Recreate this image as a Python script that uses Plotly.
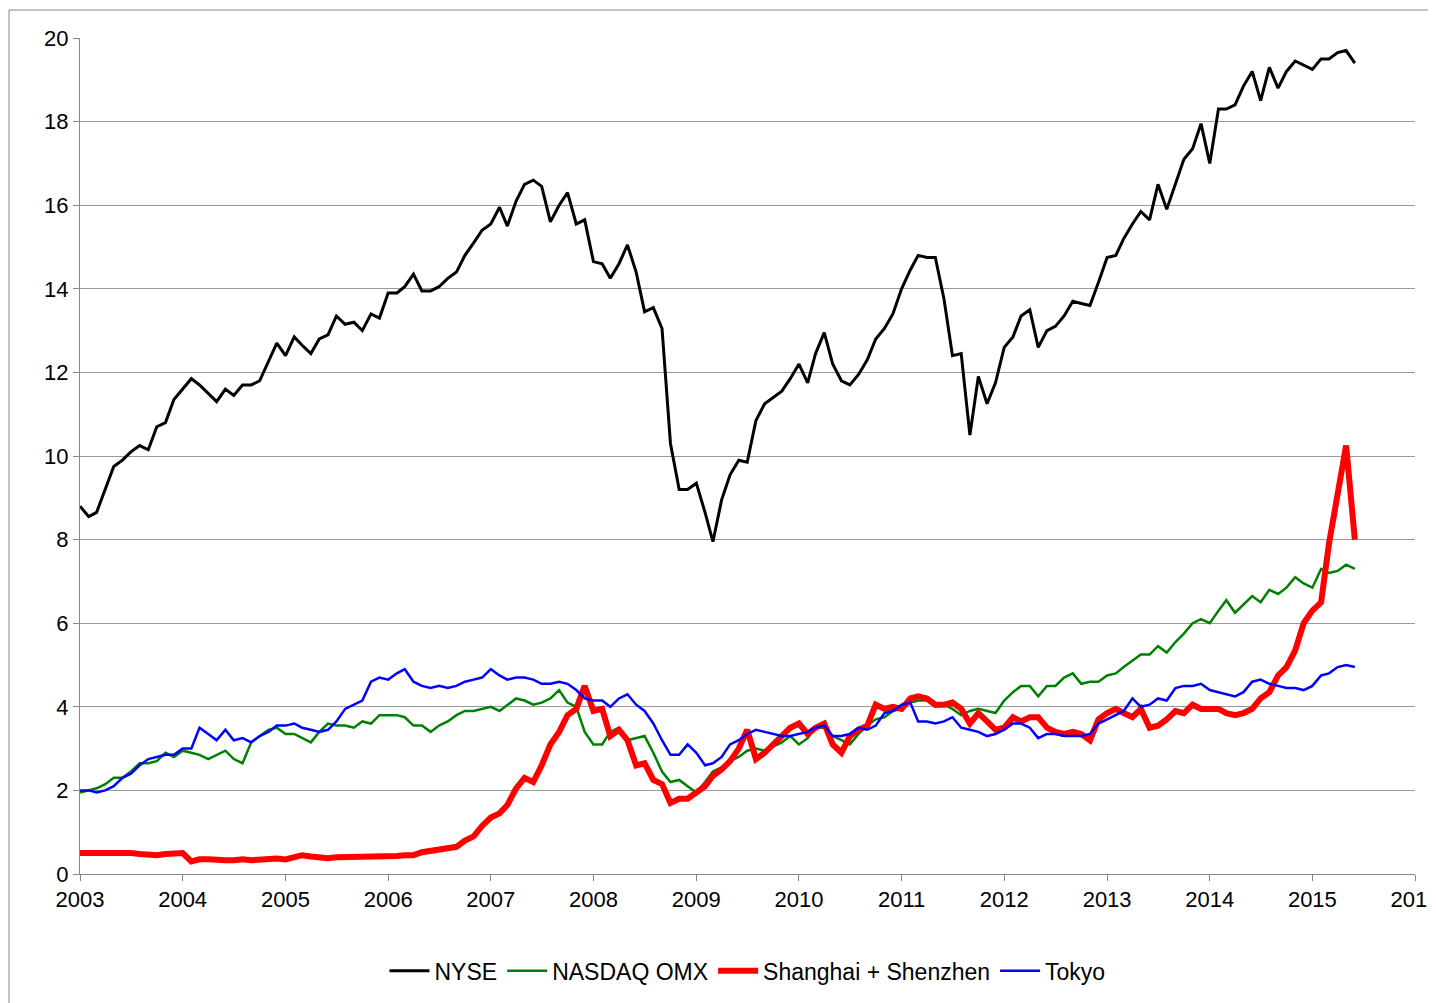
import pandas as pd
import plotly.graph_objects as go

# monthly values, Jan 2003 - Jun 2015
months = pd.date_range("2003-01-01", "2015-06-01", freq="MS")

nyse = [8.8, 8.55, 8.65, 9.2, 9.75, 9.9, 10.1, 10.25, 10.15, 10.7, 10.8, 11.35,
        11.6, 11.85, 11.7, 11.5, 11.3, 11.6, 11.45, 11.7, 11.7, 11.8, 12.25, 12.7,
        12.4, 12.85, 12.65, 12.45, 12.8, 12.9, 13.35, 13.15, 13.2, 13.0, 13.4, 13.3,
        13.9, 13.9, 14.05, 14.35, 13.95, 13.95, 14.05, 14.25, 14.4, 14.8, 15.1, 15.4,
        15.55, 15.95, 15.5, 16.1, 16.5, 16.6, 16.45, 15.6, 16.0, 16.3, 15.55, 15.65,
        14.65, 14.6, 14.25, 14.6, 15.05, 14.4, 13.45, 13.55, 13.05, 10.3, 9.2, 9.2,
        9.35, 8.65, 7.95, 8.95, 9.55, 9.9, 9.85, 10.85, 11.25, 11.4, 11.55, 11.85,
        12.2, 11.75, 12.45, 12.95, 12.2, 11.8, 11.7, 11.95, 12.3, 12.8, 13.05, 13.4,
        14.0, 14.45, 14.8, 14.75, 14.75, 13.75, 12.4, 12.45, 10.5, 11.9, 11.25, 11.75,
        12.6, 12.85, 13.35, 13.5, 12.6, 13.0, 13.1, 13.35, 13.7, 13.65, 13.6, 14.15,
        14.75, 14.8, 15.2, 15.55, 15.85, 15.65, 16.5, 15.9, 16.5, 17.1, 17.35, 17.95,
        17.0, 18.3, 18.3, 18.4, 18.85, 19.2, 18.5, 19.3, 18.8, 19.2, 19.45, 19.35,
        19.25, 19.5, 19.5, 19.65, 19.7, 19.4]

nasdaq = [1.95, 2.0, 2.05, 2.15, 2.3, 2.3, 2.45, 2.65, 2.65, 2.7, 2.9, 2.8,
          2.95, 2.9, 2.85, 2.75, 2.85, 2.95, 2.75, 2.65, 3.15, 3.3, 3.45, 3.5,
          3.35, 3.35, 3.25, 3.15, 3.4, 3.6, 3.55, 3.55, 3.5, 3.65, 3.6, 3.8,
          3.8, 3.8, 3.75, 3.55, 3.55, 3.4, 3.55, 3.65, 3.8, 3.9, 3.9, 3.95,
          4.0, 3.9, 4.05, 4.2, 4.15, 4.05, 4.1, 4.2, 4.4, 4.1, 4.0, 3.4,
          3.1, 3.1, 3.4, 3.5, 3.2, 3.25, 3.3, 2.9, 2.45, 2.2, 2.25, 2.1,
          1.95, 2.2, 2.45, 2.55, 2.7, 2.8, 2.95, 3.0, 2.95, 3.05, 3.15, 3.3,
          3.1, 3.25, 3.5, 3.5, 3.3, 3.2, 3.1, 3.35, 3.55, 3.7, 3.75, 3.9,
          3.95, 4.1, 4.15, 4.15, 4.0, 4.05, 3.95, 3.8, 3.9, 3.95, 3.9, 3.85,
          4.15, 4.35, 4.5, 4.5, 4.25, 4.5, 4.5, 4.7, 4.8, 4.55, 4.6, 4.6,
          4.75, 4.8, 4.95, 5.1, 5.25, 5.25, 5.45, 5.3, 5.55, 5.75, 6.0, 6.1,
          6.0, 6.3, 6.55, 6.25, 6.45, 6.65, 6.5, 6.8, 6.7, 6.85, 7.1, 6.95,
          6.85, 7.3, 7.2, 7.25, 7.4, 7.3]

shanghai = [0.5, 0.5, 0.5, 0.5, 0.53, 0.5, 0.5, 0.48, 0.45, 0.45, 0.48, 0.5,
            0.5, 0.3, 0.35, 0.35, 0.33, 0.33, 0.33, 0.35, 0.33, 0.35, 0.35, 0.37,
            0.35, 0.4, 0.45, 0.42, 0.4, 0.38, 0.4, 0.4, 0.42, 0.4, 0.4, 0.4,
            0.43, 0.43, 0.45, 0.45, 0.52, 0.55, 0.6, 0.62, 0.65, 0.8, 0.9, 1.15,
            1.35, 1.45, 1.65, 2.05, 2.3, 2.2, 2.6, 3.1, 3.4, 3.8, 3.95, 4.5,
            3.9, 3.95, 3.3, 3.45, 3.2, 2.6, 2.65, 2.25, 2.15, 1.7, 1.8, 1.8,
            1.95, 2.1, 2.35, 2.5, 2.7, 3.0, 3.45, 2.75, 2.9, 3.1, 3.35, 3.5,
            3.6, 3.35, 3.5, 3.6, 3.1, 2.9, 3.3, 3.45, 3.55, 4.05, 3.95, 4.0,
            3.95, 4.2, 4.25, 4.2, 4.05, 4.05, 4.1, 3.95, 3.6, 3.85, 3.65, 3.45,
            3.5, 3.75, 3.65, 3.75, 3.75, 3.5, 3.4, 3.35, 3.4, 3.35, 3.2, 3.7,
            3.85, 3.95, 3.85, 3.75, 3.95, 3.5, 3.55, 3.7, 3.9, 3.85, 4.05, 3.95,
            3.95, 3.95, 3.85, 3.8, 3.85, 3.95, 4.2, 4.35, 4.75, 4.95, 5.35, 6.0,
            6.3, 6.5, 7.9, 9.0, 10.25, 8.0]

tokyo = [2.0, 2.0, 1.95, 2.0, 2.1, 2.3, 2.4, 2.6, 2.75, 2.8, 2.85, 2.85,
         3.0, 3.0, 3.5, 3.35, 3.2, 3.45, 3.2, 3.25, 3.15, 3.3, 3.4, 3.55,
         3.55, 3.6, 3.5, 3.45, 3.4, 3.45, 3.65, 3.95, 4.05, 4.15, 4.6, 4.7,
         4.65, 4.8, 4.9, 4.6, 4.5, 4.45, 4.5, 4.45, 4.5, 4.6, 4.65, 4.7,
         4.9, 4.75, 4.65, 4.7, 4.7, 4.65, 4.55, 4.55, 4.6, 4.55, 4.4, 4.2,
         4.15, 4.15, 4.0, 4.2, 4.3, 4.05, 3.9, 3.6, 3.2, 2.85, 2.85, 3.1,
         2.9, 2.6, 2.65, 2.8, 3.1, 3.2, 3.35, 3.45, 3.4, 3.35, 3.3, 3.3,
         3.35, 3.4, 3.5, 3.55, 3.3, 3.3, 3.35, 3.5, 3.45, 3.55, 3.85, 3.9,
         4.05, 4.1, 3.65, 3.65, 3.6, 3.65, 3.75, 3.5, 3.45, 3.4, 3.3, 3.35,
         3.45, 3.6, 3.6, 3.5, 3.25, 3.35, 3.35, 3.3, 3.3, 3.3, 3.35, 3.6,
         3.7, 3.8, 3.9, 4.2, 4.0, 4.05, 4.2, 4.15, 4.45, 4.5, 4.5, 4.55,
         4.4, 4.35, 4.3, 4.25, 4.35, 4.6, 4.65, 4.55, 4.5, 4.45, 4.45, 4.4,
         4.5, 4.75, 4.8, 4.95, 5.0, 4.95]

year_ticks = [str(y) for y in range(2003, 2017)]

fig = go.Figure()
fig.add_trace(go.Scatter(x=months, y=nyse, mode="lines", name="NYSE", line=dict(color="black", width=3)))
fig.add_trace(go.Scatter(x=months, y=nasdaq, mode="lines", name="NASDAQ OMX", line=dict(color="#008000", width=2.5)))
fig.add_trace(go.Scatter(x=months, y=shanghai, mode="lines", name="Shanghai + Shenzhen", line=dict(color="#ff0000", width=6)))
fig.add_trace(go.Scatter(x=months, y=tokyo, mode="lines", name="Tokyo", line=dict(color="#0000ff", width=2.5)))

# plot area: x 72..1407, y 30..866 in a 1436x1003 page
fig.update_layout(
    width=1436, height=1003,
    margin=dict(l=72, r=29, t=30, b=137),
    plot_bgcolor="white", paper_bgcolor="white",
    font=dict(family="Liberation Sans, Arial", size=22, color="black"),
    legend=dict(orientation="h", x=0.5, xanchor="center", y=-0.09, yanchor="top",
                font=dict(size=23), itemwidth=40, traceorder="normal"),
    shapes=[dict(type="rect", xref="paper", yref="paper",
                 x0=-71 / 1335, x1=1 + 27 / 1335, y0=-135 / 836, y1=1 + 28 / 836,
                 line=dict(color="#888888", width=1))],
)
fig.update_xaxes(range=["2003-01-01", "2016-01-01"], tickvals=[y + "-01-01" for y in year_ticks],
                 ticktext=year_ticks, showgrid=False, showline=True, linecolor="#888888",
                 ticks="outside", ticklen=6, tickcolor="#888888", automargin=False)
fig.update_yaxes(range=[0, 20], dtick=2, showgrid=True, gridcolor="#999999", gridwidth=1,
                 showline=True, linecolor="#888888", zeroline=False, ticks="outside",
                 ticklen=6, tickcolor="#888888", automargin=False)

fig.write_html("out.html")
